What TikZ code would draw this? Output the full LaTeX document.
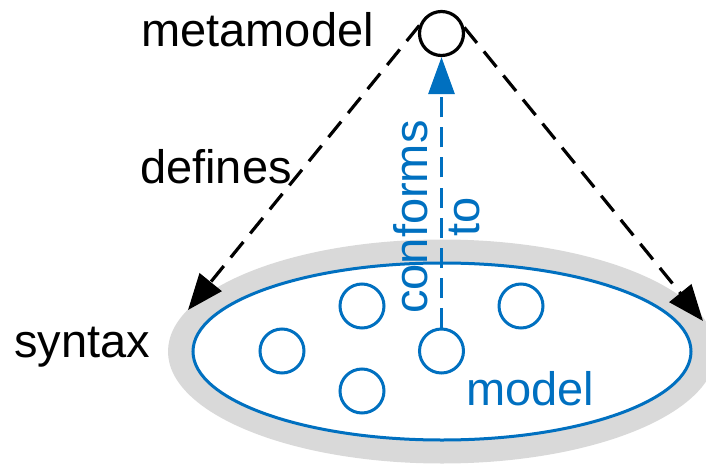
\documentclass[tikz,border=0pt]{standalone}
\usepackage{fontspec}
\setmainfont{Liberation Sans}
\usetikzlibrary{arrows.meta}
\definecolor{mblue}{HTML}{0070C0}
\definecolor{bandgray}{HTML}{D9D9D9}
\begin{document}
\begin{tikzpicture}[x=1pt,y=-1pt,
  lbl/.style={font=\fontsize{47}{52}\selectfont, inner sep=0pt},
  small/.style={circle, draw=mblue, line width=3pt, minimum size=44pt, inner sep=0pt},
  meta/.style={circle, draw=black, line width=3.2pt, minimum size=44pt, inner sep=0pt},
  defarrow/.style={draw=black, line width=3.2pt, dash pattern=on 20pt off 11pt, -{Triangle[length=36pt,width=28pt]}},
  confarrow/.style={draw=mblue, line width=3pt, dash pattern=on 20pt off 10pt, -{Triangle[length=37pt,width=26pt]}}]
\useasboundingbox (0,0) rectangle (706,465);
% syntax band and model set
\fill[bandgray] (442,351.5) ellipse [x radius=274, y radius=112];
\fill[white] (442,351.5) ellipse [x radius=249, y radius=88.5];
\draw[mblue, line width=3pt] (442,351.5) ellipse [x radius=249, y radius=88.5];
% model elements
\node[small] (c1) at (362,306) {};
\node[small] (c2) at (282,351) {};
\node[small] (c3) at (362,391) {};
\node[small] (c4) at (441.5,351) {};
\node[small] (c5) at (521,306) {};
% metamodel
\node[meta] (mm) at (441.5,33.5) {};
% labels
\node[lbl, anchor=base east] (metamodeltext) at (374,47) {metamodel};
\node[lbl, anchor=base west] (definestext) at (140,183) {defines};
\node[lbl, anchor=base west] (syntaxtext) at (14,357) {syntax};
\node[lbl, anchor=base west, text=mblue] (modeltext) at (466,405) {model};
\node[lbl, text=mblue, rotate=90, align=center] (conftext) at (437,217) {conforms\\to};
% connectors
\coordinate (ltip) at (188,310);
\coordinate (rtip) at (703,321);
\draw[defarrow] (mm.160) -- (ltip);
\draw[defarrow] (mm.15) -- (rtip);
\draw[confarrow] (c4) -- (mm);
\end{tikzpicture}
\end{document}
